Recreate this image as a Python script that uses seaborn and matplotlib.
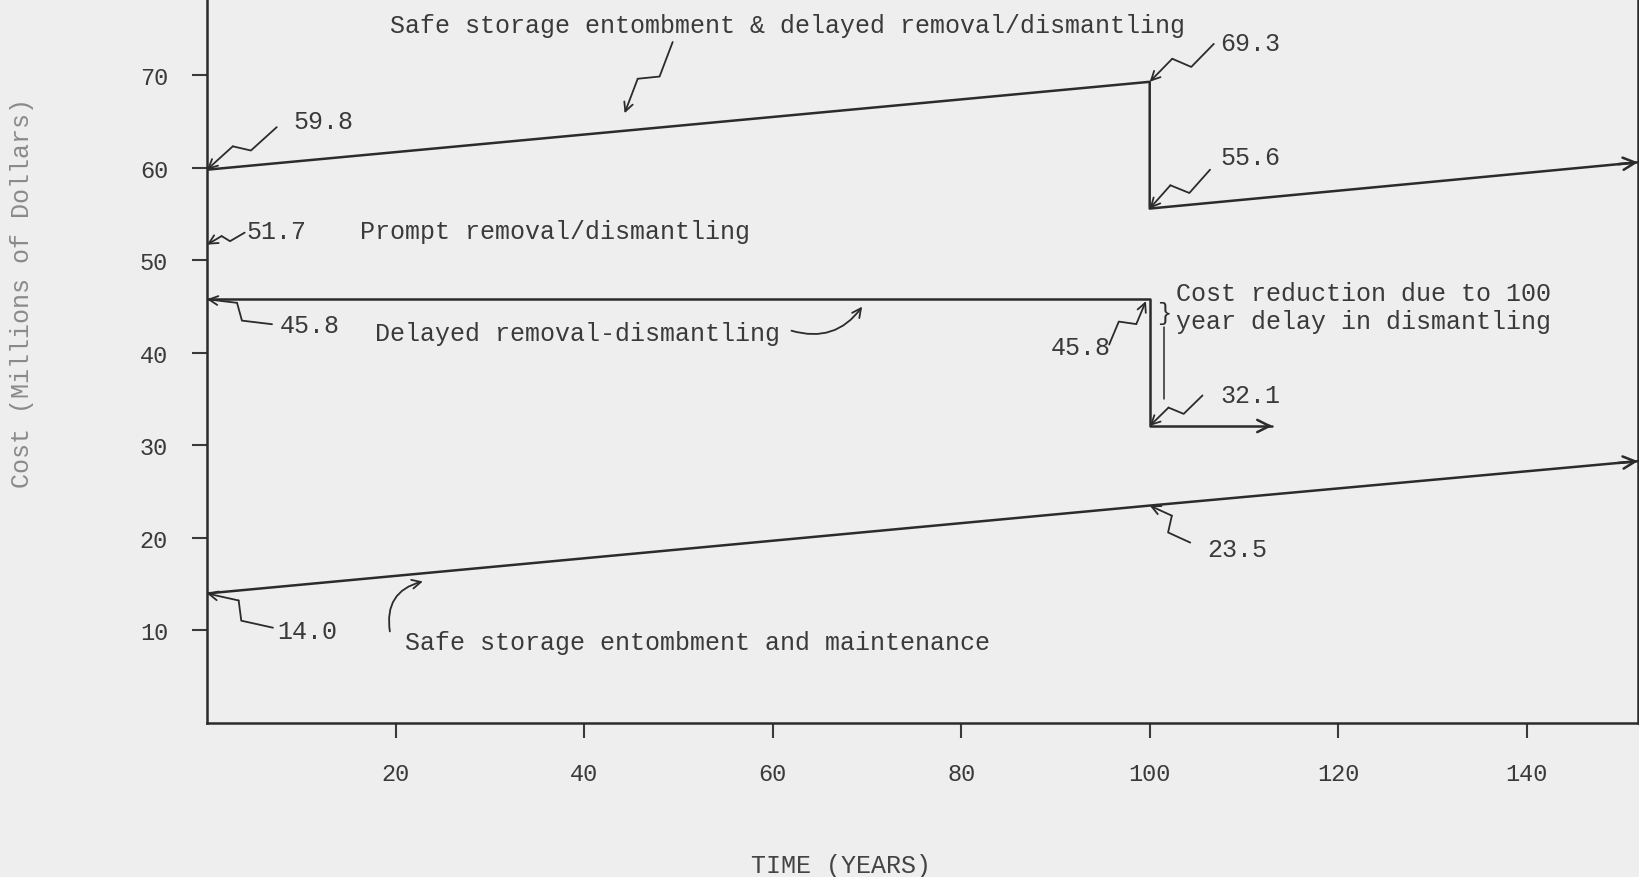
import matplotlib
matplotlib.use("Agg")
import matplotlib.pyplot as plt
import numpy as np
import pandas as pd
import seaborn as sns

# values
tick_years = [20, 40, 60, 80, 100, 120, 140]
tick_costs = [10, 20, 30, 40, 50, 60, 70]

upper_years = [0, 100, 100, 151.8]
upper_costs = [59.8, 69.3, 55.6, 60.6]
delayed_years = [0, 100, 100, 113.0]
delayed_costs = [45.8, 45.8, 32.1, 32.1]
maint_years = [0, 100, 151.8]
maint_costs = [14.0, 23.5, 28.3]
prompt_year = 0
prompt_cost = 51.7

label_upper = "Safe storage entombment & delayed removal/dismantling"
label_prompt = "Prompt removal/dismantling"
label_delayed = "Delayed removal-dismantling"
label_maint = "Safe storage entombment and maintenance"
label_reduction = "Cost reduction due to 100\nyear delay in dismantling"

paper = "#eeeeee"
ink = "#2b2b2b"
text_ink = "#3a3a3a"

sns.set_style("ticks")
plt.rcParams["font.family"] = ["Liberation Mono", "DejaVu Sans Mono"]

frames = []
for name, yrs, cs in [("upper", upper_years, upper_costs),
                      ("delayed", delayed_years, delayed_costs),
                      ("maint", maint_years, maint_costs)]:
    frames.append(pd.DataFrame({"scenario": name, "year": yrs, "cost": cs}))
df = pd.concat(frames, ignore_index=True)

fig = plt.figure(figsize=(16.4, 8.78), dpi=100, facecolor=paper)
ax = fig.add_axes([0.1262, 0.1754, 0.8726, 0.8246])
ax.set_facecolor(paper)

sns.lineplot(data=df, x="year", y="cost", units="scenario", estimator=None,
             sort=False, color=ink, lw=1.8, ax=ax)

ax.set_xlim(0, 151.8)
ax.set_ylim(0, 78.25)
ax.set_xticks(tick_years)
ax.set_yticks(tick_costs)
ax.tick_params(direction="out", length=11, width=1.5, pad=17,
               labelsize=17, colors=text_ink)
for side in ["left", "bottom", "right"]:
    ax.spines[side].set_linewidth(1.8)
    ax.spines[side].set_color(ink)
ax.spines["top"].set_visible(False)

ax.set_xlabel("TIME (YEARS)", fontsize=18, color="#444444")
ax.xaxis.set_label_coords(0.443, -0.180)
ax.set_ylabel("Cost (Millions of Dollars)", fontsize=18, color="#8a8a8a")
ax.yaxis.set_label_coords(-0.121, 0.595)

arrow_kw = dict(arrowstyle="->", color=ink, lw=1.3, shrinkA=0, shrinkB=0,
                mutation_scale=16)

# arrowheads at the open ends of the three curves
for yrs, cs in [(upper_years, upper_costs), (delayed_years, delayed_costs),
                (maint_years, maint_costs)]:
    tip = np.array([yrs[-1], cs[-1]])
    prev = np.array([yrs[-2], cs[-2]])
    ax.annotate("", xy=tip, xytext=tip - 0.04 * (tip - prev),
                arrowprops=dict(arrowstyle="->", color=ink, lw=1.8,
                                shrinkA=0, shrinkB=0, mutation_scale=22),
                annotation_clip=False)


def zigzag(start, end, amp=0.9):
    sx, sy = start
    ex, ey = end
    dx, dy = ex - sx, ey - sy
    n = np.hypot(dx, dy)
    px, py = -dy / n, dx / n
    a = (sx + 0.42 * dx + amp * px, sy + 0.42 * dy + amp * py)
    b = (sx + 0.58 * dx - amp * px, sy + 0.58 * dy - amp * py)
    ax.plot([sx, a[0], b[0]], [sy, a[1], b[1]], color=ink, lw=1.3,
            clip_on=False)
    ax.annotate("", xy=end, xytext=b, arrowprops=arrow_kw,
                annotation_clip=False)


def label(x, y, s, ha="left", size=18):
    ax.text(x, y, s, ha=ha, va="center", fontsize=size, color=text_ink)


# upper curve
label(19.4, 75.4, label_upper)
zigzag((49.4, 73.6), (44.3, 65.9), amp=0.9)
label(9.2, 65.1, f"{upper_costs[0]:.1f}")
zigzag((7.4, 64.4), (upper_years[0], upper_costs[0]), amp=0.7)
label(107.5, 73.5, f"{upper_costs[1]:.1f}")
zigzag((106.8, 73.4), (upper_years[1], upper_costs[1]))
label(107.5, 61.2, f"{upper_costs[2]:.1f}")
zigzag((106.4, 59.8), (upper_years[2], upper_costs[2]))

# prompt removal
label(4.2, 53.2, f"{prompt_cost:.1f}")
zigzag((4.0, 53.0), (prompt_year, prompt_cost), amp=0.4)
label(16.2, 53.2, label_prompt)

# delayed removal
label(7.7, 43.0, f"{delayed_costs[0]:.1f}")
zigzag((6.9, 43.1), (delayed_years[0], delayed_costs[0]), amp=0.8)
label(17.8, 42.2, label_delayed)
ax.annotate("", xy=(69.5, 45.0), xytext=(62.0, 42.4),
            arrowprops=dict(connectionstyle="arc3,rad=0.35", **arrow_kw))
label(95.9, 40.6, f"{delayed_costs[1]:.1f}", ha="right")
zigzag((95.7, 40.9), (99.6, 45.6), amp=0.8)
label(107.5, 35.4, f"{delayed_costs[2]:.1f}")
zigzag((105.6, 35.4), (delayed_years[2], delayed_costs[2]), amp=0.7)

# brace marking the reduction
ax.plot([101.55, 101.55], [delayed_costs[2] + 2.9, delayed_costs[1] - 3.0],
        color=ink, lw=1.1)
ax.text(101.55, delayed_costs[1] - 1.4, "}", fontsize=17, color=ink,
        ha="center", va="center")
label(102.75, 45.0, label_reduction)

# maintenance
label(7.5, 9.9, f"{maint_costs[0]:.1f}")
zigzag((7.0, 10.3), (maint_years[0], maint_costs[0]), amp=0.9)
label(21.0, 8.8, label_maint)
ax.annotate("", xy=(22.9, 15.3), xytext=(19.4, 9.9),
            arrowprops=dict(connectionstyle="arc3,rad=-0.45", **arrow_kw))
label(106.1, 18.8, f"{maint_costs[1]:.1f}")
zigzag((104.3, 19.5), (maint_years[1], maint_costs[1]), amp=0.8)

fig.savefig("out.png", dpi=100, facecolor=paper)
